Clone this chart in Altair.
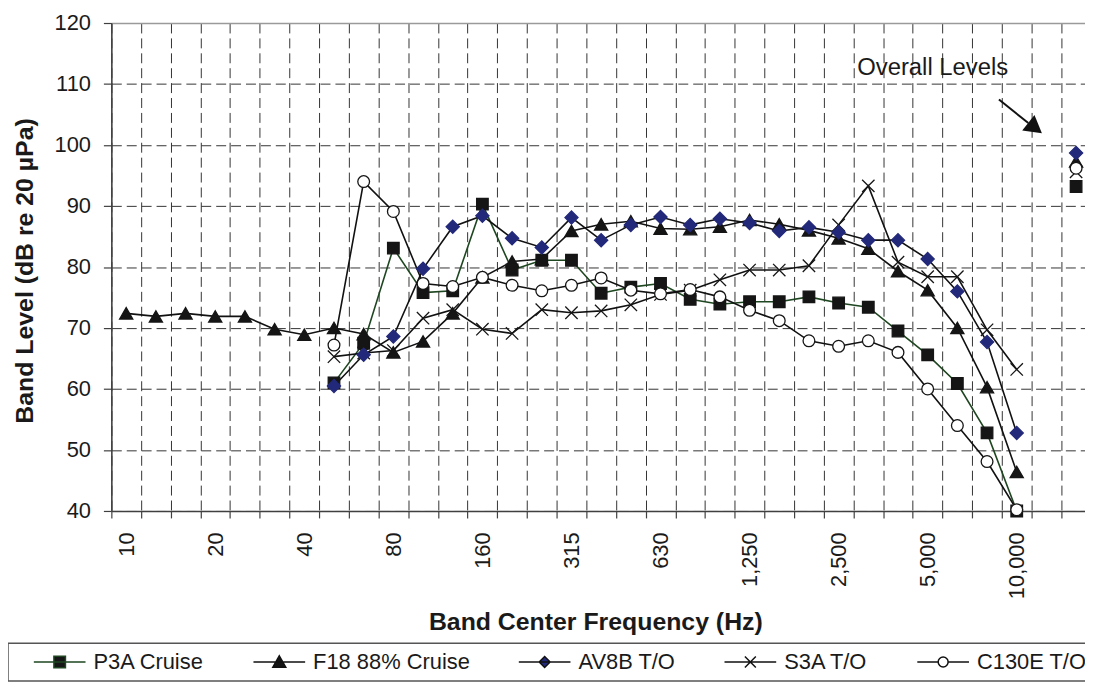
import json
import altair as alt
import pandas as pd

# ---------------- data ----------------
bands = ["10", "12.5", "16", "20", "25", "31.5", "40", "50", "63", "80", "100",
         "125", "160", "200", "250", "315", "400", "500", "630", "800", "1000",
         "1250", "1600", "2000", "2500", "3150", "4000", "5000", "6300", "8000",
         "10000", "", "Overall"]

tick_labels = ["10", "", "", "20", "", "", "40", "", "", "80", "", "", "160", "", "",
               "315", "", "", "630", "", "", "1,250", "", "", "2,500", "", "",
               "5,000", "", "", "10,000", "", ""]

series_names = ["P3A Cruise", "F18 88% Cruise", "AV8B T/O", "S3A T/O", "C130E T/O"]

N = None
p3a = [N, N, N, N, N, N, N, 61.0, 67.5, 83.1, 75.8, 76.1, 90.3, 79.5, 81.1, 81.1,
       75.7, 76.7, 77.3, 74.7, 73.9, 74.3, 74.3, 75.1, 74.1, 73.4, 69.5, 65.6,
       60.9, 52.8, 40.0]
f18 = [72.4, 71.9, 72.4, 71.9, 71.9, 69.8, 68.9, 70.0, 69.0, 66.0, 67.8, 72.4,
       78.3, 80.9, 81.3, 85.9, 87.0, 87.5, 86.3, 86.2, 86.6, 87.7, 87.0, 86.0,
       84.7, 83.0, 79.3, 76.2, 70.0, 60.3, 46.4]
av8b = [N, N, N, N, N, N, N, 60.5, 65.6, 68.6, 79.7, 86.6, 88.4, 84.7, 83.2, 88.1,
        84.4, 86.9, 88.2, 86.9, 87.9, 87.2, 85.9, 86.5, 85.7, 84.4, 84.4, 81.3,
        76.0, 67.7, 52.8]
s3a = [N, N, N, N, N, N, N, 65.3, 65.9, 66.3, 71.6, 73.0, 69.8, 69.1, 73.0, 72.5,
       72.8, 73.8, 75.5, 76.2, 77.9, 79.5, 79.5, 80.2, 86.9, 93.3, 80.8, 78.4,
       78.4, 69.7, 63.2]
c130e = [N, N, N, N, N, N, N, 67.2, 94.0, 89.1, 77.3, 76.8, 78.3, 77.0, 76.1, 77.0,
         78.2, 76.2, 75.6, 76.3, 75.1, 72.9, 71.2, 67.9, 67.0, 67.9, 66.0, 60.0,
         54.0, 48.1, 40.2]
overall = [93.2, 97.3, 98.7, 95.6, 96.2]

annot_text = ["Overall Levels"]
annot_x = [27.17]
annot_y = [111.5]
arrow_from = [29.40, 107.45]
arrow_to = [30.39, 103.6]
arrow_head = [30.62, 102.78]

# ---------------- styles ----------------
line_colors = ["#1e4620", "#111111", "#111111", "#111111", "#111111"]
legend_fills = ["#151515", "#151515", "#23297a", "transparent", "#ffffff"]
legend_paths = [
    "M0.7,0H5.9M2.72,-0.58H3.88V0.58H2.72Z",
    "M0.7,0H5.9M3.3,-0.62L3.95,0.52H2.65Z",
    "M0.7,0H5.9M3.3,-0.55L3.85,0L3.3,0.55L2.75,0Z",
    "M0.7,0H5.9M2.75,-0.55L3.85,0.55M2.75,0.55L3.85,-0.55",
    "M0.7,0H2.8M3.8,0H5.9M3.8,0A0.5,0.5 0 1,1 2.8,0A0.5,0.5 0 1,1 3.8,0Z",
]
X_PATH = "M-1,-1L1,1M-1,1L1,-1"
markers = [
    dict(shape="square", filled=True, fill="#151515", stroke="#151515", size=135),
    dict(shape="triangle-up", filled=True, fill="#151515", stroke="#151515", size=175),
    dict(shape="diamond", filled=True, fill="#23297a", stroke="#23297a", size=175),
    dict(shape=X_PATH, filled=False, stroke="#151515", size=155),
    dict(shape="circle", filled=True, fill="#ffffff", stroke="#151515", size=140),
]

rows = []
for name, vals, ov in zip(series_names, [p3a, f18, av8b, s3a, c130e], overall):
    for i, v in enumerate(vals):
        if v is not None:
            rows.append({"series": name, "idx": i, "level": v, "kind": "band"})
    rows.append({"series": name, "idx": len(bands) - 1, "level": ov, "kind": "overall"})
df = pd.DataFrame(rows)

BAND = 29.87
X_MAX = 32.3
W = (X_MAX + 0.5) * BAND
H = 491

label_expr = json.dumps(tick_labels) + "[round(datum.value + 0.5)]"
top_test = "datum.value >= 120"

x_enc = alt.X(
    "idx:Q",
    scale=alt.Scale(domain=[-0.5, X_MAX], nice=False, zero=False),
    axis=alt.Axis(
        values=[k - 0.5 for k in range(len(bands))],
        tickCount=200,
        labelExpr=label_expr,
        labelAngle=270,
        labelOffset=BAND / 2,
        labelPadding=14,
        labelFlush=False,
        labelOverlap=False,
        tickSize=7,
        title="Band Center Frequency (Hz)",
        titleX=487,
        titleY=99,
        titleBaseline="top",
        titleAnchor="middle",
    ),
)
y_enc = alt.Y(
    "level:Q",
    scale=alt.Scale(domain=[40, 120], nice=False, zero=False),
    axis=alt.Axis(
        values=list(range(40, 121, 10)),
        tickSize=8,
        labelPadding=13,
        title="Band Level (dB re 20 µPa)",
        titleX=-87,
        titleY=249,
        titleBaseline="middle",
        titleAngle=270,
        gridDash={"condition": {"test": top_test, "value": []}, "value": [10, 5]},
        gridColor={"condition": {"test": top_test, "value": "#9a9a9a"}, "value": "#333333"},
        gridWidth={"condition": {"test": top_test, "value": 1.6}, "value": 1},
    ),
)

stroke_scale = alt.Scale(domain=series_names, range=line_colors)

legend_def = alt.Legend(
    title=None,
    orient="none", legendX=-104, legendY=624,
    direction="horizontal", columns=5,
    symbolSize=400, symbolStrokeWidth=1.5, symbolOffset=0, symbolOpacity=1,
    labelOffset=56, columnPadding=31, labelLimit=400,
    labelFont="Liberation Sans", labelFontSize=22, labelColor="#1a1a1a",
    padding=8, strokeColor="#555555",
)

base = alt.Chart(df)

lines = base.transform_filter("datum.kind == 'band'").mark_line(strokeWidth=1.6).encode(
    x=x_enc, y=y_enc,
    stroke=alt.Stroke("series:N", scale=stroke_scale, legend=legend_def),
)

point_layers = []
for name, m in zip(series_names, markers):
    kw = dict(shape=m["shape"], filled=m["filled"], stroke=m["stroke"], size=m["size"],
              strokeWidth=1.3, opacity=1)
    if "fill" in m:
        kw["fill"] = m["fill"]
    point_layers.append(
        base.transform_filter(alt.datum.series == name).mark_point(**kw).encode(x=x_enc, y=y_enc)
    )

legend_layer = base.transform_filter("datum.kind == 'overall'").mark_point(
    filled=True, opacity=0, strokeWidth=1.5
).encode(
    x=x_enc, y=y_enc,
    shape=alt.Shape("series:N", scale=alt.Scale(domain=series_names, range=legend_paths),
                    legend=legend_def),
    fill=alt.Fill("series:N", scale=alt.Scale(domain=series_names, range=legend_fills),
                  legend=legend_def),
    stroke=alt.Stroke("series:N", scale=stroke_scale, legend=legend_def),
)

annot_df = pd.DataFrame({"idx": annot_x, "level": annot_y, "text": annot_text})
annot = alt.Chart(annot_df).mark_text(
    align="center", baseline="alphabetic", fontSize=24, color="#1a1a1a"
).encode(x="idx:Q", y="level:Q", text="text:N")

arrow_df = pd.DataFrame({"idx": [arrow_from[0]], "level": [arrow_from[1]],
                         "idx2": [arrow_to[0]], "level2": [arrow_to[1]]})
arrow = alt.Chart(arrow_df).mark_rule(strokeWidth=2, color="#111111").encode(
    x="idx:Q", y="level:Q", x2="idx2:Q", y2="level2:Q"
)
head_df = pd.DataFrame({"idx": [arrow_head[0]], "level": [arrow_head[1]]})
head = alt.Chart(head_df).mark_point(
    shape="triangle-right", angle=38, size=400, filled=True, color="#111111", opacity=1
).encode(x="idx:Q", y="level:Q")

order = [1, 0, 3, 4, 2]
chart = alt.layer(
    lines, *[point_layers[i] for i in order], legend_layer, annot, arrow, head
).properties(
    width=W, height=H,
    padding={"left": 104, "top": 13, "right": 0, "bottom": 170},
    autosize=alt.AutoSizeParams(type="none"),
).configure(
    font="Liberation Sans",
).configure_view(
    stroke=None,
).configure_axis(
    domainColor="#404040", domainWidth=1.6,
    tickColor="#404040", tickWidth=1.2,
    labelFont="Liberation Sans", labelFontSize=22, labelColor="#1a1a1a",
    titleFont="Liberation Sans", titleFontSize=25, titleFontWeight="bold", titleColor="#1a1a1a",
    grid=True, gridColor="#333333", gridDash=[10, 5], gridWidth=1,
).configure_legend(
    strokeWidth=1.5,
)

chart.save("out.html", embed_options={"renderer": "svg", "actions": False})
